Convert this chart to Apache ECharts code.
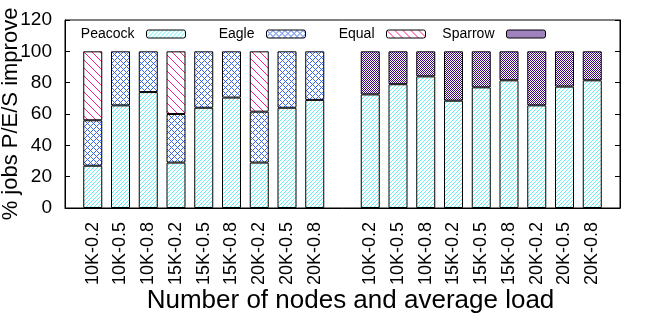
<!DOCTYPE html>
<html>
<head>
<meta charset="utf-8">
<script src="https://cdn.jsdelivr.net/npm/echarts@6/dist/echarts.min.js"></script>
<style>
html, body { margin: 0; padding: 0; background: #fff; }
#chart { width: 650px; height: 320px; }
</style>
</head>
<body>
<div id="chart"></div>
<script>
// category labels of each group (same nine settings in both groups)
var groupLabels = ["10K-0.2", "10K-0.5", "10K-0.8", "15K-0.2", "15K-0.5", "15K-0.8", "20K-0.2", "20K-0.5", "20K-0.8"];

// left group: Peacock / Eagle / Equal (share of jobs, %)
var peacockLeft = [27, 65.5, 74, 29, 64, 70.5, 29, 64, 69];
var eagle = [29, 34.5, 26, 31, 36, 29.5, 32.5, 36, 31];
var equal = [44, null, null, 40, null, null, 38.5, null, null];

// right group: Peacock / Sparrow
var peacockRight = [72.5, 79, 84, 68.5, 77, 81.5, 65.5, 77.5, 81.5];
var sparrow = [27.5, 21, 16, 31.5, 23, 18.5, 34.5, 22.5, 18.5];

var yTicks = [0, 20, 40, 60, 80, 100, 120];

var FONT = "Liberation Sans";

// x slots: empty, left group, empty, right group, empty
var categories = [""].concat(groupLabels, [""], groupLabels, [""]);

function leftOnly(arr) {
    return [null].concat(arr, [null], groupLabels.map(function() { return null; }), [null]);
}
function rightOnly(arr) {
    return [null].concat(groupLabels.map(function() { return null; }), [null], arr, [null]);
}
function both(a, b) {
    return [null].concat(a, [null], b, [null]);
}

// small pixel patterns like gnuplot fill styles
function makePattern(n, color, test) {
    var c = document.createElement("canvas");
    c.width = n;
    c.height = n;
    var ctx = c.getContext("2d");
    ctx.fillStyle = "#fff";
    ctx.fillRect(0, 0, n, n);
    ctx.fillStyle = color;
    for (var x = 0; x < n; x++) {
        for (var y = 0; y < n; y++) {
            if (test(x, y)) ctx.fillRect(x, y, 1, 1);
        }
    }
    return { image: c, repeat: "repeat" };
}

var patPeacock = makePattern(4, "#66f0f0", function(x, y) { return (x + y) % 4 === 0; });
var patEagle = makePattern(6, "#3a66e8", function(x, y) { return (x + y) % 6 === 0 || (x - y + 6) % 6 === 0; });
var patEqual = makePattern(8, "#ff1a8c", function(x, y) { return (x - y + 8) % 8 === 0; });
var patSparrow = makePattern(4, "#40047e", function(x, y) { return (x + y) % 2 === 0; });

function barSeries(name, data, pattern) {
    return {
        name: name,
        type: "bar",
        stack: "all",
        barWidth: 19,
        data: data,
        itemStyle: { color: pattern, borderColor: "#000", borderWidth: 1 }
    };
}

function legendAt(name, rightPx) {
    return {
        data: [name],
        top: 22,
        right: rightPx,
        align: "right",
        itemWidth: 39,
        itemHeight: 8,
        selectedMode: false,
        textStyle: { fontFamily: FONT, fontSize: 14, color: "#000", padding: [0, 7, 0, 0] },
        itemStyle: { borderColor: "#000", borderWidth: 1 }
    };
}

var chart = echarts.init(document.getElementById("chart"));

var option = {
    animation: false,
    backgroundColor: "#fff",
    grid: {
        left: 65, right: 30, top: 20, bottom: 112,
        containLabel: false, outerBoundsMode: "none",
        show: true, borderColor: "#000", borderWidth: 1
    },
    legend: [
        legendAt("Peacock", 459),
        legendAt("Eagle", 339),
        legendAt("Equal", 219),
        legendAt("Sparrow", 99)
    ],
    xAxis: {
        type: "category",
        data: categories,
        boundaryGap: false,
        name: "Number of nodes and average load",
        nameLocation: "middle",
        nameGap: 80,
        nameMoveOverlap: false,
        nameTextStyle: { fontFamily: FONT, fontSize: 26, color: "#000", padding: [0, 0, 0, 16] },
        axisLine: { lineStyle: { color: "#000" } },
        axisTick: { show: false },
        axisLabel: { interval: 0, rotate: 90, margin: 14, fontFamily: FONT, fontSize: 18, color: "#000" }
    },
    yAxis: [{
        type: "value",
        min: yTicks[0],
        max: yTicks[yTicks.length - 1],
        interval: 20,
        name: "% jobs P/E/S improve",
        nameLocation: "middle",
        nameGap: 43,
        nameMoveOverlap: false,
        nameTextStyle: { fontFamily: FONT, fontSize: 22, color: "#000" },
        axisLine: { show: true, lineStyle: { color: "#000" } },
        axisTick: { show: true, inside: true, length: 5, lineStyle: { color: "#000" } },
        axisLabel: { fontFamily: FONT, fontSize: 19, color: "#000", margin: 13 },
        splitLine: { show: false }
    }, {
        type: "value",
        position: "right",
        min: yTicks[0],
        max: yTicks[yTicks.length - 1],
        interval: 20,
        axisLine: { show: true, lineStyle: { color: "#000" } },
        axisTick: { show: true, inside: true, length: 5, lineStyle: { color: "#000" } },
        axisLabel: { show: false },
        splitLine: { show: false }
    }],
    series: [
        barSeries("Peacock", both(peacockLeft, peacockRight), patPeacock),
        barSeries("Eagle", leftOnly(eagle), patEagle),
        barSeries("Equal", leftOnly(equal), patEqual),
        barSeries("Sparrow", rightOnly(sparrow), patSparrow)
    ]
};

chart.setOption(option);
</script>
</body>
</html>
